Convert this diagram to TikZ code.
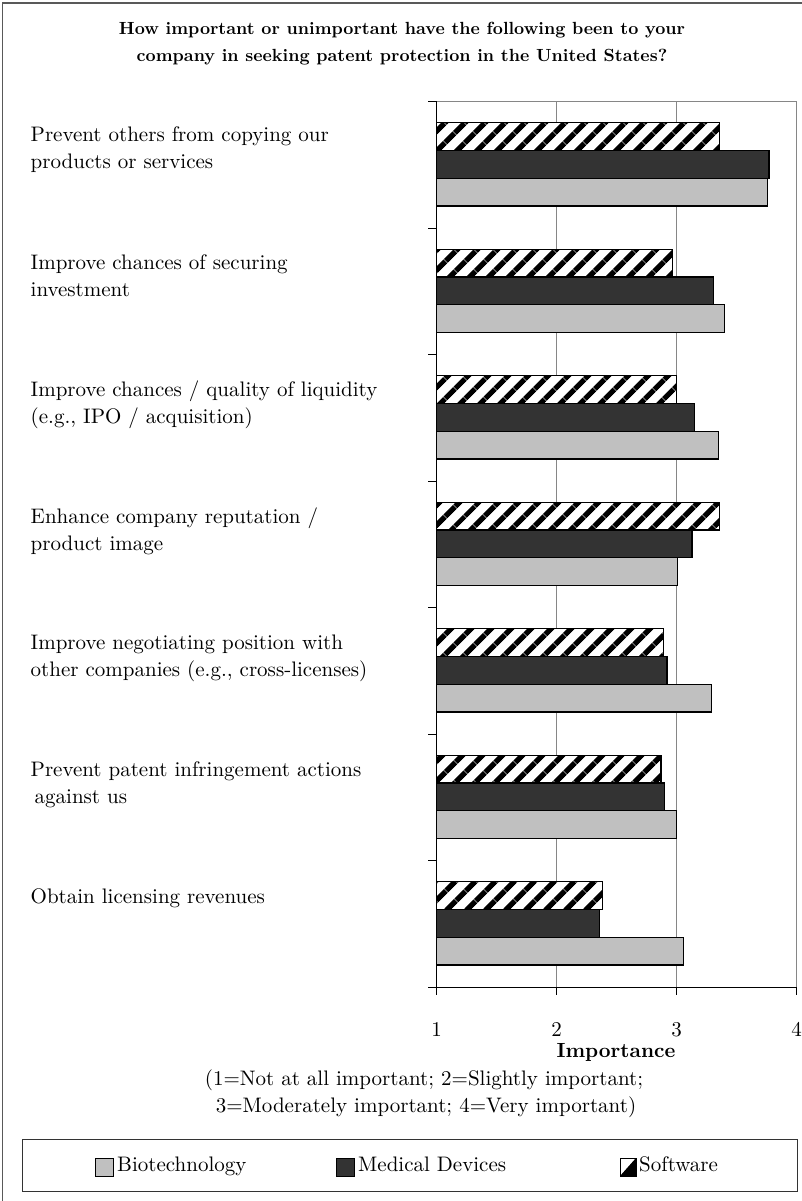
\documentclass[tikz,border=0pt]{standalone}
\usepackage{fontspec}
\setmainfont{lmroman10-regular.otf}[BoldFont=lmroman10-bold.otf,ItalicFont=lmroman10-italic.otf]
\usetikzlibrary{patterns.meta}
\definecolor{biogray}{RGB}{192,192,192}
\definecolor{meddark}{RGB}{51,51,51}
\definecolor{gridgray}{RGB}{134,134,134}
\tikzset{
	bar/.style={draw=black,line width=1.3pt},
	biobar/.style={bar,fill=biogray},
	medbar/.style={bar,fill=meddark},
	softbar/.style={bar,fill=white,postaction={pattern={Lines[angle=45,distance=13.9pt,line width=5.5pt]}},postaction={draw=black,line width=1.3pt}},
	txt/.style={font=\fontsize{21}{27}\selectfont,inner sep=0pt},
	catlab/.style={txt,anchor=base west,align=left},
}
\begin{document}
\begin{tikzpicture}[x=1pt,y=-1pt]
	\newcommand{\xa}{436.5} %x of value 1
	\newcommand{\sx}{120} %one unit
	\newcommand{\ya}{101.7} %plot top
	\newcommand{\dy}{126.5} %one category
	\useasboundingbox (0,0) rectangle (802,1201);
	\draw[black!65,line width=1.2pt] (802,3) -- (2.5,3) -- (2.5,1201); %frame
	\node[font=\bfseries\fontsize{17.6}{27}\selectfont,align=center,inner sep=0pt,anchor=base] (title) at (402,62)
		{How important or unimportant have the following been to your\\company in seeking patent protection in the United States?};
	\foreach \v in {2,3,4}{ %grid
		\draw[gridgray,line width=1pt] ({\xa+(\v-1)*\sx},\ya) -- ({\xa+(\v-1)*\sx},{\ya+7*\dy});
	}
	\draw[gridgray,line width=1pt] (\xa,\ya) -- ({\xa+3*\sx},\ya);
	\foreach \k/\s/\m/\b in {0/3.36/3.77/3.76,1/2.965/3.31/3.40,2/3.00/3.15/3.35,3/3.36/3.13/3.01,4/2.89/2.92/3.29,5/2.87/2.90/3.00,6/2.385/2.36/3.06}{ %bars
		\draw[softbar] (\xa,{\ya+\k*\dy+21}) rectangle ({\xa+(\s-1)*\sx},{\ya+\k*\dy+48.8});
		\draw[medbar] (\xa,{\ya+\k*\dy+48.8}) rectangle ({\xa+(\m-1)*\sx},{\ya+\k*\dy+76.6});
		\draw[biobar] (\xa,{\ya+\k*\dy+76.6}) rectangle ({\xa+(\b-1)*\sx},{\ya+\k*\dy+104.4});
	}
	\draw[line width=1pt] (\xa,\ya) -- (\xa,{\ya+7*\dy}) -- ({\xa+3*\sx},{\ya+7*\dy}); %axes
	\foreach \k in {0,...,7}{
		\draw[line width=1pt] (428,{\ya+\k*\dy}) -- (\xa,{\ya+\k*\dy});
	}
	\foreach \v in {1,...,4}{
		\draw[line width=1pt] ({\xa+(\v-1)*\sx},{\ya+7*\dy}) -- ({\xa+(\v-1)*\sx},995);
		\node[txt,anchor=base] (t\v) at ({\xa+(\v-1)*\sx},1036) {\v};
	}
	\node[catlab] (lab1) at (30.5,169) {Prevent others from copying our\\products or services};
	\node[catlab] (lab2) at (30.5,296) {Improve chances of securing\\investment};
	\node[catlab] (lab3) at (30.5,423) {Improve chances / quality of liquidity\\(e.g., IPO / acquisition)};
	\node[catlab] (lab4) at (30.5,550) {Enhance company reputation /\\product image};
	\node[catlab] (lab5) at (30.5,676) {Improve negotiating position with\\other companies (e.g., cross-licenses)};
	\node[catlab] (lab6) at (30.5,803) {Prevent patent infringement actions\\\hspace{4pt}against us};
	\node[catlab] (lab7) at (30.5,903) {Obtain licensing revenues};
	\node[font=\bfseries\fontsize{20.5}{27}\selectfont,inner sep=0pt,anchor=base] (imp) at (616,1057) {Importance}; %axis title
	\node[txt,anchor=base] (note1) at (424,1085) {(1=Not at all important; 2=Slightly important;};
	\node[txt,anchor=base] (note2) at (426,1112) {3=Moderately important; 4=Very important)};
	\draw[black!80,line width=0.9pt] (22,1139) rectangle (797,1191); %legend
	\draw[biobar,line width=1pt] (95,1158) rectangle (113,1176);
	\node[txt,anchor=base west] (lbio) at (117,1171) {Biotechnology};
	\draw[medbar,line width=1pt] (336,1158) rectangle (354,1176);
	\node[txt,anchor=base west] (lmed) at (358,1171) {Medical Devices};
	\fill[black] (620,1176) -- (636,1158) -- (636,1176) -- cycle;
	\draw[bar,line width=1pt] (620,1158) rectangle (636,1176);
	\node[txt,anchor=base west] (lsoft) at (639,1171) {Software};
\end{tikzpicture}
\end{document}
